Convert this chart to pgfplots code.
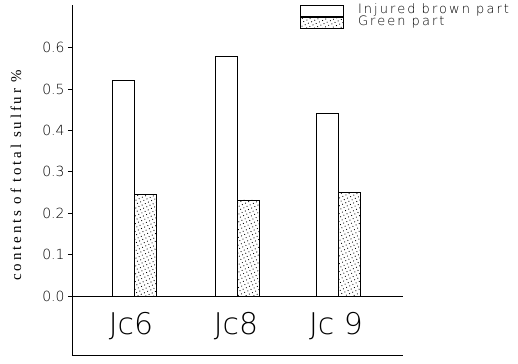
\documentclass[border=0pt]{standalone}
\usepackage{pgfplots}
\pgfplotsset{compat=1.18}
\usetikzlibrary{patterns.meta}
\usepackage{fontspec}
\setmainfont{DejaVu Sans}
\newfontfamily\lserif[LetterSpace=19]{Liberation Serif}
\newfontfamily\light{DejaVu Sans ExtraLight}
\newfontfamily\lightsp[LetterSpace=16]{DejaVu Sans ExtraLight}
\pgfplotsset{boxlegend/.style={legend image code/.code={\draw[#1] (0bp,-5.5bp) rectangle (43bp,5.5bp);}}}
\begin{document}
\begin{tikzpicture}
\begin{axis}[
  at={(0,0)}, anchor=south west,
  scale only axis, width=331bp, height=350bp,
  xmin=72, xmax=403, ymin=-0.1425, ymax=0.703,
  axis x line*=bottom, axis y line*=left,
  axis line style={-, line width=0.8bp, black},
  xtick=\empty,
  ytick={0,0.1,0.2,0.3,0.4,0.5,0.6},
  /pgf/number format/fixed,
  /pgf/number format/fixed zerofill,
  /pgf/number format/precision=1,
  /pgf/number format/assume math mode=true,
  yticklabel style={font=\light\fontsize{14}{14}\selectfont},
  tick align=outside, major tick length=4bp,
  tick style={black, line width=0.8bp},
  ybar, bar width=22bp,
  clip=false,
  legend style={at={(rel axis cs:0.689,1.001)}, anchor=north west,
    draw=none, fill=none, inner sep=0pt, row sep=0pt,
    nodes={inner sep=0pt, text height=8bp, text depth=3bp, anchor=west},
    font=\lightsp\fontsize{13}{13}\selectfont},
  legend cell align=left,
]
\addplot[fill=white, draw=black, line width=0.8bp, bar shift=-11bp, boxlegend]
  coordinates {(134,0.52) (237,0.58) (338,0.44)};
\addlegendentry{\hspace*{14bp}Injured brown part}
\addplot[pattern={Dots[distance=3.5bp, radius=0.6bp, angle=25]}, draw=black, line width=0.8bp, bar shift=11bp, boxlegend]
  coordinates {(134,0.245) (237,0.232) (338,0.25)};
\addlegendentry{\hspace*{14bp}Green part}
\draw[line width=0.8bp] (axis cs:72,0) -- (axis cs:403,0);
\node[font=\light\fontsize{30}{30}\selectfont] at (axis cs:131,-0.0725) {Jc6};
\node[font=\light\fontsize{30}{30}\selectfont] at (axis cs:236,-0.0725) {Jc8};
\node[font=\light\fontsize{30}{30}\selectfont] at (axis cs:336,-0.0725) {Jc 9};
\node[font=\lserif\fontsize{15}{15}\selectfont, rotate=90] at (axis cs:16,0.292) {contents of total sulfur \%};
\end{axis}
\pgfresetboundingbox
\path (-72bp,-9bp) rectangle (446bp,355bp);
\end{tikzpicture}
\end{document}
